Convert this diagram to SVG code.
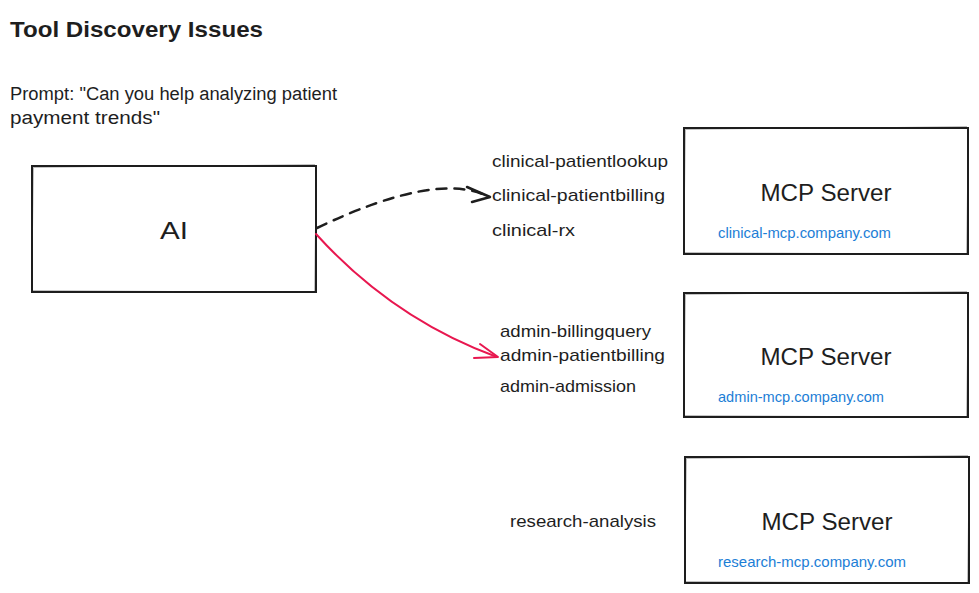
<svg xmlns="http://www.w3.org/2000/svg" width="979" height="593" viewBox="0 0 979 593">
<defs>
<style>
text{font-family:"Liberation Sans","DejaVu Sans",sans-serif;fill:#1e1e1e}
.title{font-size:22px;font-weight:bold}
.prompt{font-size:18px}
.tool{font-size:17px}
.head{font-size:24px}
.url{font-size:15px;fill:#1c7ed6}
.box{fill:#fff;stroke:#1e1e1e;stroke-width:2}
.box2{fill:none;stroke:#1e1e1e;stroke-width:1;opacity:.6}
</style>
</defs>
<rect width="979" height="593" fill="#fff"/>
<text class="title" x="10" y="37" textLength="253" lengthAdjust="spacingAndGlyphs">Tool Discovery Issues</text>
<text class="prompt" x="10" y="100" textLength="327" lengthAdjust="spacingAndGlyphs">Prompt: "Can you help analyzing patient</text>
<text class="prompt" x="10" y="124" textLength="150" lengthAdjust="spacingAndGlyphs">payment trends"</text>

<g id="ai">
<rect class="box" x="32" y="166" width="284" height="126"/>
<path class="box2" d="M33,167 L315,165 M316,168 L315,291 M314,292 L31,291 M32,290 L33,168"/>
<text class="head" x="174" y="239" text-anchor="middle" textLength="28" lengthAdjust="spacingAndGlyphs">AI</text>
</g>

<g id="server-clinical">
<rect class="box" x="684" y="128" width="284" height="126"/>
<path class="box2" d="M685,129 L967,127 M968,130 L967,253 M966,254 L683,253 M684,252 L685,130"/>
<text class="head" x="826" y="201" text-anchor="middle" textLength="131" lengthAdjust="spacingAndGlyphs">MCP Server</text>
<text class="url" x="718" y="238" textLength="173" lengthAdjust="spacingAndGlyphs">clinical-mcp.company.com</text>
</g>

<g id="server-admin">
<rect class="box" x="684" y="293" width="284" height="124"/>
<path class="box2" d="M685,294 L967,292 M968,295 L967,416 M966,417 L683,416 M684,415 L685,295"/>
<text class="head" x="826" y="365" text-anchor="middle" textLength="131" lengthAdjust="spacingAndGlyphs">MCP Server</text>
<text class="url" x="718" y="402" textLength="166" lengthAdjust="spacingAndGlyphs">admin-mcp.company.com</text>
</g>

<g id="server-research">
<rect class="box" x="685" y="457" width="284" height="126"/>
<path class="box2" d="M686,458 L968,456 M969,459 L968,582 M967,583 L684,582 M685,581 L686,459"/>
<text class="head" x="827" y="530" text-anchor="middle" textLength="131" lengthAdjust="spacingAndGlyphs">MCP Server</text>
<text class="url" x="718" y="567" textLength="188" lengthAdjust="spacingAndGlyphs">research-mcp.company.com</text>
</g>

<g id="tools-clinical">
<text class="tool" x="492" y="167" textLength="176" lengthAdjust="spacingAndGlyphs">clinical-patientlookup</text>
<text class="tool" x="492" y="201" textLength="173" lengthAdjust="spacingAndGlyphs">clinical-patientbilling</text>
<text class="tool" x="492" y="236" textLength="83" lengthAdjust="spacingAndGlyphs">clinical-rx</text>
</g>
<g id="tools-admin">
<text class="tool" x="500" y="337" textLength="151" lengthAdjust="spacingAndGlyphs">admin-billingquery</text>
<text class="tool" x="500" y="361" textLength="165" lengthAdjust="spacingAndGlyphs">admin-patientbilling</text>
<text class="tool" x="500" y="392" textLength="136" lengthAdjust="spacingAndGlyphs">admin-admission</text>
</g>
<g id="tools-research">
<text class="tool" x="510" y="527" textLength="146" lengthAdjust="spacingAndGlyphs">research-analysis</text>
</g>

<g id="connectors" fill="none" stroke-linecap="round" stroke-linejoin="round">
<path d="M317,228 Q438,170 489,197" stroke="#1e1e1e" stroke-width="2.5" stroke-dasharray="10 8"/>
<path d="M467,187 L490,197 L472,202" stroke="#1e1e1e" stroke-width="2.5"/>
<path d="M316,234 Q393,319 497,357" stroke="#e8174f" stroke-width="2"/>
<path d="M480,344 L498,357 L474,358" stroke="#e8174f" stroke-width="2"/>
</g>
</svg>
